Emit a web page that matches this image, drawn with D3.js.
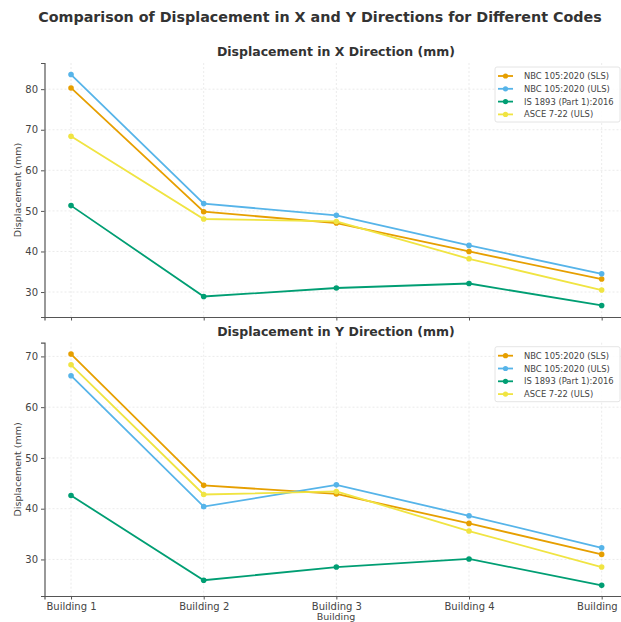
<!DOCTYPE html>
<html><head><meta charset="utf-8">
<script src="https://d3js.org/d3.v7.min.js"></script>
<style>body{margin:0;background:#fff;} svg{display:block;font-family:"DejaVu Sans",sans-serif;}</style>
</head><body>
<svg id="c" width="621" height="622"></svg>
<script>
const buildings = ["Building 1","Building 2","Building 3","Building 4","Building 5"];
const seriesNames = ["NBC 105:2020 (SLS)","NBC 105:2020 (ULS)","IS 1893 (Part 1):2016","ASCE 7-22 (ULS)"];
const seriesColors = ["#E69F00","#56B4E9","#009E73","#F0E442"];
const xNbcSls = [80.3, 49.8, 47.0, 40.0, 33.2];
const xNbcUls = [83.6, 51.8, 48.9, 41.5, 34.5];
const xIs1893 = [51.3, 28.9, 31.0, 32.1, 26.7];
const xAsce   = [68.4, 48.0, 47.4, 38.2, 30.5];
const yNbcSls = [70.45, 44.6, 42.9, 37.1, 31.0];
const yNbcUls = [66.2, 40.4, 44.7, 38.6, 32.3];
const yIs1893 = [42.6, 25.9, 28.5, 30.1, 24.9];
const yAsce   = [68.35, 42.8, 43.4, 35.6, 28.5];
const xTicksTop = [30,40,50,60,70,80];
const yTicksBottom = [30,40,50,60,70];

const svg = d3.select("#c");
svg.append("text").attr("x", 320).attr("y", 22).attr("text-anchor","middle")
  .attr("font-size", 14.3).attr("font-weight","bold").attr("fill","#333")
  .text("Comparison of Displacement in X and Y Directions for Different Codes");

const xs = d3.scaleLinear().domain([-0.2, 4.2]).range([44.5, 628.2]);

function panel(opts){
  const {top, bottom, domain, ticks, data, title, showX} = opts;
  const g = svg.append("g");
  const ys = d3.scaleLinear().domain(domain).range([bottom, top]);
  g.selectAll(".gy").data(ticks).join("line")
    .attr("x1", xs.range()[0]).attr("x2", xs.range()[1])
    .attr("y1", d=>ys(d)).attr("y2", d=>ys(d))
    .attr("stroke","#e6e6e6").attr("stroke-width",0.8).attr("stroke-dasharray","2,2");
  g.selectAll(".gx").data(buildings).join("line")
    .attr("x1", (d,i)=>xs(i)).attr("x2", (d,i)=>xs(i))
    .attr("y1", top).attr("y2", bottom)
    .attr("stroke","#e6e6e6").attr("stroke-width",0.8).attr("stroke-dasharray","2,2");
  const ya = g.append("g").attr("transform",`translate(${xs.range()[0]},0)`)
    .call(d3.axisLeft(ys).tickValues(ticks).tickSize(3.5).tickPadding(3));
  ya.select(".domain").attr("stroke","#555").attr("stroke-width",1.2);
  ya.selectAll(".tick line").attr("stroke","#555");
  ya.selectAll("text").attr("font-size",10).attr("fill","#444").attr("font-family","DejaVu Sans");
  const xa = g.append("g").attr("transform",`translate(0,${bottom})`)
    .call(d3.axisBottom(xs).tickValues([0,1,2,3,4]).tickFormat(i=>showX?buildings[i]:"").tickSize(3.5).tickPadding(3));
  xa.select(".domain").attr("stroke","#555").attr("stroke-width",1.2);
  xa.selectAll(".tick line").attr("stroke","#555");
  xa.selectAll("text").attr("font-size",10).attr("fill","#444").attr("font-family","DejaVu Sans");
  const line = d3.line().x((d,i)=>xs(i)).y(d=>ys(d));
  data.forEach((vals,k)=>{
    g.append("path").datum(vals).attr("d",line).attr("fill","none")
      .attr("stroke",seriesColors[k]).attr("stroke-width",1.8);
    g.selectAll(null).data(vals).join("circle")
      .attr("cx",(d,i)=>xs(i)).attr("cy",d=>ys(d)).attr("r",2.8)
      .attr("fill",seriesColors[k]);
  });
  g.append("text").attr("x", 336).attr("y", top-7).attr("text-anchor","middle")
    .attr("font-size",12.5).attr("font-weight","bold").attr("fill","#333").text(title);
  g.append("text").attr("transform",`translate(21,${(top+bottom)/2}) rotate(-90)`)
    .attr("text-anchor","middle").attr("font-size",9.5).attr("fill","#444").text("Displacement (mm)");
  const lx = 495, ly = top+4;
  const lg = g.append("g");
  lg.append("rect").attr("x",lx).attr("y",ly).attr("width",125).attr("height",55).attr("rx",2)
    .attr("fill","#fff").attr("fill-opacity",0.85).attr("stroke","#ddd").attr("stroke-width",0.8);
  seriesNames.forEach((n,k)=>{
    const yy = ly + 9 + k*12.8;
    lg.append("line").attr("x1",lx+3).attr("x2",lx+18).attr("y1",yy).attr("y2",yy)
      .attr("stroke",seriesColors[k]).attr("stroke-width",1.8);
    lg.append("circle").attr("cx",lx+10.5).attr("cy",yy).attr("r",2.6).attr("fill",seriesColors[k]);
    lg.append("text").attr("x",lx+29).attr("y",yy+3).attr("font-size",8.4).attr("fill","#444").text(n);
  });
  return g;
}

panel({top:63, bottom:317, domain:[23.85, 86.45], ticks:xTicksTop,
  data:[xNbcSls,xNbcUls,xIs1893,xAsce], title:"Displacement in X Direction (mm)", showX:false});
panel({top:342.7, bottom:596, domain:[22.8, 72.7], ticks:yTicksBottom,
  data:[yNbcSls,yNbcUls,yIs1893,yAsce], title:"Displacement in Y Direction (mm)", showX:true});

svg.append("text").attr("x",336).attr("y",620).attr("text-anchor","middle")
  .attr("font-size",9.5).attr("fill","#444").text("Building");
</script>
</body></html>
